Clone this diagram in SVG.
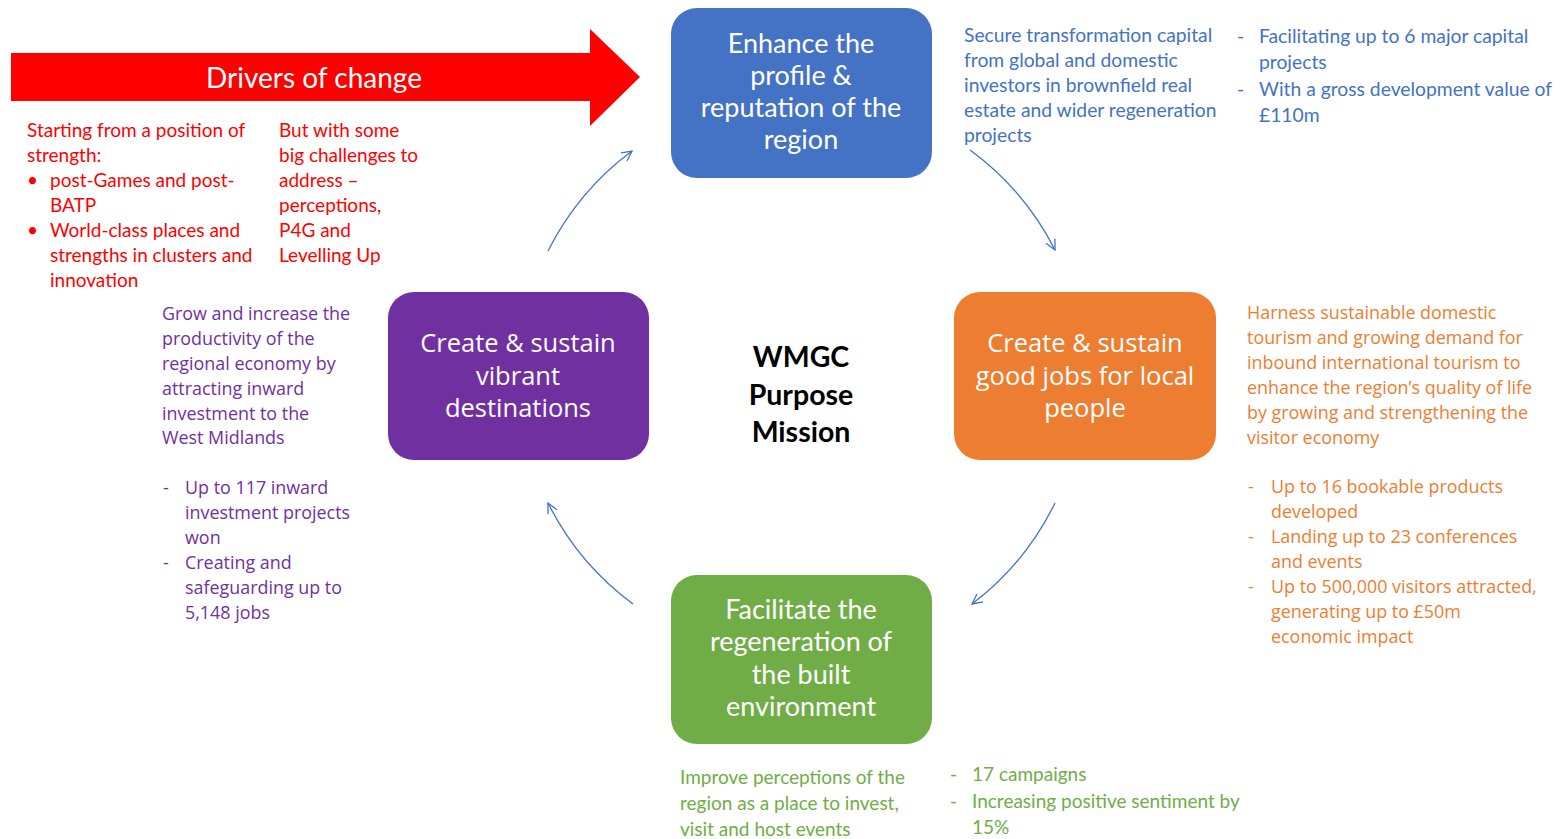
<svg xmlns="http://www.w3.org/2000/svg" width="1560" height="839" viewBox="0 0 1560 839">
  <defs>
    <marker id="open-arrow" markerUnits="userSpaceOnUse" markerWidth="14" markerHeight="14" refX="11" refY="6" orient="auto">
      <path d="M1,1 L11,6 L1,11" fill="none" stroke="#4472C4" stroke-width="1.3"/>
    </marker>
    <style>
      .cal { font-family: Lato, "Liberation Sans", sans-serif; }
      .seg { font-family: "Open Sans", "Noto Sans", sans-serif; }
      .box-label { fill: #ffffff; text-anchor: middle; }
      .cal.box-label { font-size: 27px; }
      .seg.box-label { font-size: 25.5px; }
      .body { font-size: 19px; }
      .seg-body { font-size: 17.9px; }
      .red { fill: #FF0000; }
      .blue { fill: #4472C4; }
      .orange { fill: #ED7D31; }
      .purple { fill: #7030A0; }
      .green { fill: #70AD47; }
      .link { fill: none; stroke: #4472C4; stroke-width: 1.3; marker-end: url(#open-arrow); }
    </style>
  </defs>
  <rect width="1560" height="839" fill="#ffffff"/>

  <!-- Drivers of change banner -->
  <g id="drivers">
    <polygon points="11,53 590,53 590,29 640,77 590,126 590,101 11,101" fill="#FF0000"/>
    <text class="cal" x="314" y="88" font-size="28" fill="#ffffff" text-anchor="middle">Drivers of change</text>
    <g class="cal body red">
      <text x="27" y="137">Starting from a position of</text>
      <text x="27" y="162">strength:</text>
      <text x="27" y="187">•</text>
      <text x="50" y="187">post-Games and post-</text>
      <text x="50" y="212">BATP</text>
      <text x="27" y="237">•</text>
      <text x="50" y="237">World-class places and</text>
      <text x="50" y="262">strengths in clusters and</text>
      <text x="50" y="287">innovation</text>
      <text x="279" y="137">But with some</text>
      <text x="279" y="162">big challenges to</text>
      <text x="279" y="187">address –</text>
      <text x="279" y="212">perceptions,</text>
      <text x="279" y="237">P4G and</text>
      <text x="279" y="262">Levelling Up</text>
    </g>
  </g>

  <!-- Top: profile & reputation -->
  <g id="node-profile">
    <rect x="671" y="8" width="261" height="170" rx="26" fill="#4472C4"/>
    <g class="cal box-label">
      <text x="801" y="53">Enhance the</text>
      <text x="801" y="85">profile &amp;</text>
      <text x="801" y="117">reputation of the</text>
      <text x="801" y="149">region</text>
    </g>
    <g class="cal blue" font-size="19.3">
      <text x="964" y="42">Secure transformation capital</text>
      <text x="964" y="67">from global and domestic</text>
      <text x="964" y="92">investors in brownfield real</text>
      <text x="964" y="117">estate and wider regeneration</text>
      <text x="964" y="142">projects</text>
      <text x="1237" y="43">-</text>
      <text x="1259" y="43">Facilitating up to 6 major capital</text>
      <text x="1259" y="69">projects</text>
      <text x="1237" y="96">-</text>
      <text x="1259" y="96">With a gross development value of</text>
      <text x="1259" y="122">£110m</text>
    </g>
  </g>

  <!-- Right: good jobs -->
  <g id="node-jobs">
    <rect x="954" y="292" width="262" height="168" rx="26" fill="#ED7D31"/>
    <g class="seg box-label">
      <text x="1085" y="352">Create &amp; sustain</text>
      <text x="1085" y="385">good jobs for local</text>
      <text x="1085" y="417">people</text>
    </g>
    <g class="seg seg-body orange">
      <text x="1247" y="319">Harness sustainable domestic</text>
      <text x="1247" y="344">tourism and growing demand for</text>
      <text x="1247" y="369">inbound international tourism to</text>
      <text x="1247" y="394">enhance the region’s quality of life</text>
      <text x="1247" y="419">by growing and strengthening the</text>
      <text x="1247" y="444">visitor economy</text>
      <text x="1248" y="493">-</text>
      <text x="1271" y="493">Up to 16 bookable products</text>
      <text x="1271" y="518">developed</text>
      <text x="1248" y="543">-</text>
      <text x="1271" y="543">Landing up to 23 conferences</text>
      <text x="1271" y="568">and events</text>
      <text x="1248" y="593">-</text>
      <text x="1271" y="593">Up to 500,000 visitors attracted,</text>
      <text x="1271" y="618">generating up to £50m</text>
      <text x="1271" y="643">economic impact</text>
    </g>
  </g>

  <!-- Left: vibrant destinations -->
  <g id="node-destinations">
    <rect x="388" y="292" width="261" height="168" rx="26" fill="#7030A0"/>
    <g class="seg box-label">
      <text x="518" y="352">Create &amp; sustain</text>
      <text x="518" y="385">vibrant</text>
      <text x="518" y="417">destinations</text>
    </g>
    <g class="seg seg-body purple">
      <text x="162" y="320">Grow and increase the</text>
      <text x="162" y="345">productivity of the</text>
      <text x="162" y="370">regional economy by</text>
      <text x="162" y="395">attracting inward</text>
      <text x="162" y="420">investment to the</text>
      <text x="162" y="444">West Midlands</text>
      <text x="163" y="494">-</text>
      <text x="185" y="494">Up to 117 inward</text>
      <text x="185" y="519">investment projects</text>
      <text x="185" y="544">won</text>
      <text x="163" y="569">-</text>
      <text x="185" y="569">Creating and</text>
      <text x="185" y="594">safeguarding up to</text>
      <text x="185" y="619">5,148 jobs</text>
    </g>
  </g>

  <!-- Bottom: built environment -->
  <g id="node-built">
    <rect x="671" y="575" width="261" height="169" rx="26" fill="#70AD47"/>
    <g class="cal box-label">
      <text x="801" y="619">Facilitate the</text>
      <text x="801" y="651">regeneration of</text>
      <text x="801" y="684">the built</text>
      <text x="801" y="716">environment</text>
    </g>
    <g class="cal body green">
      <text x="680" y="784">Improve perceptions of the</text>
      <text x="680" y="810">region as a place to invest,</text>
      <text x="680" y="836">visit and host events</text>
      <text x="950" y="781">-</text>
      <text x="972" y="781">17 campaigns</text>
      <text x="950" y="808">-</text>
      <text x="972" y="808">Increasing positive sentiment by</text>
      <text x="972" y="834">15%</text>
    </g>
  </g>

  <!-- Centre statement -->
  <g id="node-mission">
    <g class="cal" font-size="28.5" font-weight="bold" fill="#000000" text-anchor="middle">
      <text x="801" y="367">WMGC</text>
      <text x="801" y="405">Purpose</text>
      <text x="801" y="442">Mission</text>
    </g>
  </g>

  <!-- Cycle connectors: arcs of one circle round the mission -->
  <g id="connectors">
    <path class="link" d="M548,251 A282,282 0 0,1 632,151"/>
    <path class="link" d="M970,150 A282,282 0 0,1 1055,250"/>
    <path class="link" d="M1055,503 A282,282 0 0,1 972,604"/>
    <path class="link" d="M633,604 A282,282 0 0,1 548,503"/>
  </g>
</svg>
